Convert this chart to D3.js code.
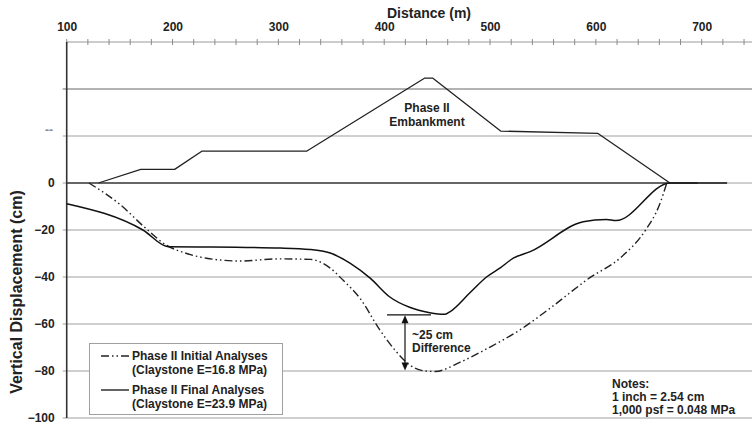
<!DOCTYPE html>
<html>
<head>
<meta charset="utf-8">
<script src="https://cdn.jsdelivr.net/npm/d3@7/dist/d3.min.js"></script>
<style>
  html, body { margin: 0; padding: 0; background: #fff; }
  svg { display: block; font-family: "Liberation Sans", Arial, sans-serif; font-weight: bold; }
</style>
</head>
<body>
<svg id="chart" width="752" height="426"></svg>
<script>
// Distance along the section (m)
const xMajorTicks = [100, 200, 300, 400, 500, 600, 700];
const yTickValues = [0, -20, -40, -60, -80, -100];
const gridValues = [40, 20, -20, -40, -60, -80, -100];

// Phase II embankment outline
const embankDist = [130, 170, 202, 228, 327, 438, 446, 510, 602, 670];
const embankHeight = [0, 5.8, 5.8, 13.6, 13.6, 44.6, 44.6, 22.1, 21.1, 0];

// Phase II initial analyses (Claystone E=16.8 MPa), displacement in cm
const initialDist = [121, 150, 174, 194, 212, 232, 264, 300, 330, 349, 361, 377, 396, 410, 424, 439, 448, 472, 500, 528, 557, 594, 623, 647, 660, 667];
const initialDisp = [0, -9, -19, -26.4, -29.8, -32, -33.2, -32.3, -32.5, -36.2, -41.3, -49, -62.6, -71, -77.4, -80, -80.2, -76.2, -69.8, -62.6, -53.2, -40.4, -31.9, -20, -9.4, 0];

// Phase II final analyses (Claystone E=23.9 MPa), displacement in cm
const finalDist = [100, 172, 196, 226, 302, 330, 349, 368, 387, 405, 424, 443, 457, 462, 481, 497, 510, 522, 538, 588, 610, 619, 670, 724];
const finalDisp = [-8.8, -20, -27.1, -27.2, -27.7, -28.3, -29.8, -34.2, -40.6, -48.4, -52.9, -55.2, -55.9, -54.8, -46.7, -39.9, -36, -32, -29.2, -16.5, -15.5, -16, 0, 0];

const notes = ["Notes:", "1 inch = 2.54 cm", "1,000 psf = 0.048 MPa"];

const svg = d3.select("#chart");
const x = d3.scaleLinear().domain([100, 700]).range([66.7, 701.7]);
const y = d3.scaleLinear().domain([-100, 60]).range([418, 42]);
const rightEdge = 752;

// horizontal gridlines
svg.append("g").selectAll("line").data(gridValues).join("line")
  .attr("x1", x(100) - 4).attr("x2", rightEdge)
  .attr("y1", d => y(d)).attr("y2", d => y(d))
  .attr("stroke", d => d === 40 ? "#666" : "#a0a0a0")
  .attr("stroke-width", 1);

// zero line
svg.append("line")
  .attr("x1", x(100) - 4).attr("x2", rightEdge)
  .attr("y1", y(0)).attr("y2", y(0))
  .attr("stroke", "#a0a0a0").attr("stroke-width", 1);
svg.append("line")
  .attr("x1", x(100)).attr("x2", x(700) - 4)
  .attr("y1", y(0)).attr("y2", y(0))
  .attr("stroke", "#666").attr("stroke-width", 2.2);

// top axis: line, minor ticks, labels
const topAxisGroup = svg.append("g");
topAxisGroup.append("line")
  .attr("x1", x(100)).attr("x2", rightEdge)
  .attr("y1", y(60)).attr("y2", y(60))
  .attr("stroke", "#9a9a9a").attr("stroke-width", 1.2);
topAxisGroup.selectAll("line.tick").data(d3.range(100, 741, 20)).join("line")
  .attr("class", "tick")
  .attr("x1", d => x(d)).attr("x2", d => x(d))
  .attr("y1", y(60) - 3).attr("y2", y(60) + 3)
  .attr("stroke", "#8a8a8a").attr("stroke-width", 1);
const topAxis = svg.append("g")
  .attr("transform", `translate(0,${y(60) - 8})`)
  .call(d3.axisTop(x).tickValues(xMajorTicks).tickSize(0).tickPadding(3));
topAxis.select(".domain").remove();
topAxis.selectAll("text")
  .attr("font-family", "Liberation Sans, Arial, sans-serif")
  .attr("font-weight", "bold").attr("font-size", 12).attr("fill", "#222");

svg.append("text").attr("x", 429).attr("y", 18)
  .attr("text-anchor", "middle").attr("font-size", 14).attr("fill", "#222")
  .text("Distance (m)");

// left axis
const leftAxis = svg.append("g")
  .attr("transform", `translate(${x(100)},0)`)
  .call(d3.axisLeft(y).tickValues(yTickValues).tickSize(0).tickPadding(12));
leftAxis.select(".domain").remove();
leftAxis.selectAll("text")
  .attr("font-family", "Liberation Sans, Arial, sans-serif")
  .attr("font-weight", "bold").attr("font-size", 12).attr("fill", "#222");
svg.append("text").attr("x", 53).attr("y", y(20) - 2)
  .attr("text-anchor", "end").attr("font-size", 12).attr("fill", "#888")
  .text("--");
svg.append("line")
  .attr("x1", x(100)).attr("x2", x(100))
  .attr("y1", y(60)).attr("y2", y(-100))
  .attr("stroke", "#333").attr("stroke-width", 1.6);

svg.append("text")
  .attr("transform", "translate(22,292) rotate(-90)")
  .attr("text-anchor", "middle").attr("font-size", 16).attr("fill", "#222")
  .text("Vertical Displacement (cm)");

// embankment outline
const lineLin = d3.line().x(d => x(d[0])).y(d => y(d[1]));
svg.append("path")
  .datum(d3.zip(embankDist, embankHeight))
  .attr("d", lineLin)
  .attr("fill", "none").attr("stroke", "#222").attr("stroke-width", 1.3)
  .attr("stroke-linejoin", "round");

svg.append("text").attr("x", 427).attr("y", 112)
  .attr("text-anchor", "middle").attr("font-size", 12).attr("fill", "#222")
  .text("Phase II");
svg.append("text").attr("x", 427).attr("y", 126)
  .attr("text-anchor", "middle").attr("font-size", 12).attr("fill", "#222")
  .text("Embankment");

// displacement curves
const lineSmooth = d3.line().x(d => x(d[0])).y(d => y(d[1])).curve(d3.curveMonotoneX);
const dashInitial = "8,3,1.5,3,1.5,3";
svg.append("path")
  .datum(d3.zip(initialDist, initialDisp))
  .attr("d", lineSmooth)
  .attr("fill", "none").attr("stroke", "#222").attr("stroke-width", 1.4)
  .attr("stroke-dasharray", dashInitial);
svg.append("path")
  .datum(d3.zip(finalDist, finalDisp))
  .attr("d", lineSmooth)
  .attr("fill", "none").attr("stroke", "#111").attr("stroke-width", 1.5);

// difference annotation
const finalMin = d3.min(finalDisp);
const initialMin = d3.min(initialDisp);
const arrowX = 405;
svg.append("line")
  .attr("x1", 387).attr("x2", 431)
  .attr("y1", y(finalMin) + 0.5).attr("y2", y(finalMin) + 0.5)
  .attr("stroke", "#111").attr("stroke-width", 1.3);
svg.append("line")
  .attr("x1", arrowX).attr("x2", arrowX)
  .attr("y1", y(finalMin) + 6).attr("y2", y(initialMin) - 6)
  .attr("stroke", "#111").attr("stroke-width", 1.2);
svg.append("path")
  .attr("d", `M${arrowX},${y(finalMin) + 1}l-3.5,8h7z`).attr("fill", "#111");
svg.append("path")
  .attr("d", `M${arrowX},${y(initialMin) - 1}l-3.5,-8h7z`).attr("fill", "#111");
svg.append("text").attr("x", 412).attr("y", 339)
  .attr("font-size", 12).attr("fill", "#222").text("~25 cm");
svg.append("text").attr("x", 412).attr("y", 352)
  .attr("font-size", 12).attr("fill", "#222").text("Difference");

// legend
const legend = svg.append("g");
legend.append("rect")
  .attr("x", 89.5).attr("y", 343.5).attr("width", 193).attr("height", 71)
  .attr("fill", "#fff").attr("stroke", "#a0a0a0").attr("stroke-width", 1);
const legendItems = [
  { dash: dashInitial, lines: ["Phase II Initial Analyses", "(Claystone E=16.8 MPa)"], y: 356 },
  { dash: null, lines: ["Phase II Final Analyses", "(Claystone E=23.9 MPa)"], y: 390 }
];
legendItems.forEach(item => {
  legend.append("line")
    .attr("x1", 101).attr("x2", 129)
    .attr("y1", item.y).attr("y2", item.y)
    .attr("stroke", "#222").attr("stroke-width", 1.4)
    .attr("stroke-dasharray", item.dash);
  item.lines.forEach((t, i) => {
    legend.append("text")
      .attr("x", 132).attr("y", item.y + 4 + i * 13.5)
      .attr("font-size", 12).attr("fill", "#222").text(t);
  });
});

// notes
svg.append("g").selectAll("text").data(notes).join("text")
  .attr("x", 612).attr("y", (d, i) => 388 + i * 13)
  .attr("font-size", 12).attr("fill", "#222")
  .text(d => d);
</script>
</body>
</html>
